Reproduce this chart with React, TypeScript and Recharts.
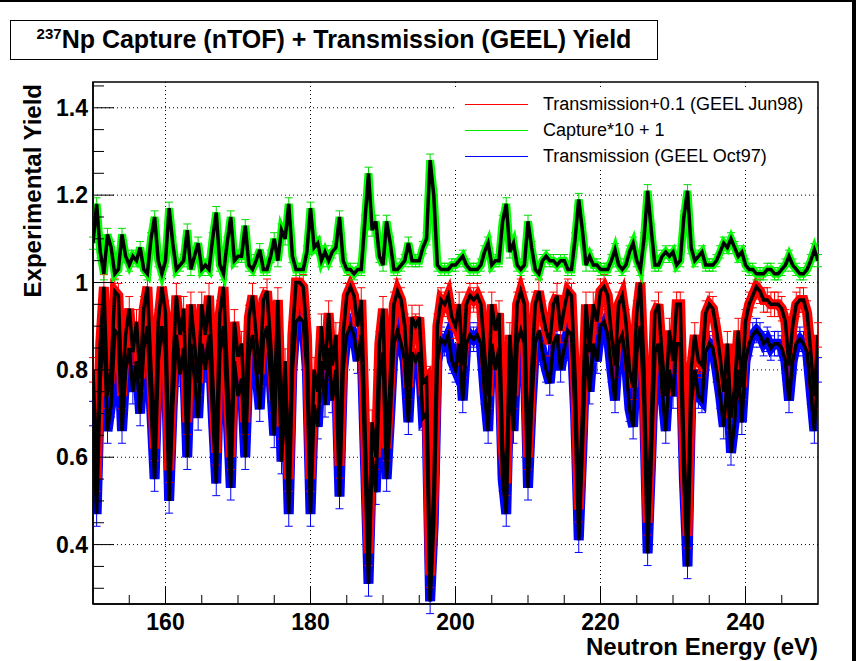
import React from 'react';
import { LineChart, Line, XAxis, YAxis, CartesianGrid, ErrorBar, ReferenceArea } from 'recharts';

// neutron energy grid (eV)
const energy = [
  150, 150.5, 151, 151.5, 152, 152.5, 153, 153.5, 154, 154.5,
  155, 155.5, 156, 156.5, 157, 157.5, 158, 158.5, 159, 159.5,
  160, 160.5, 161, 161.5, 162, 162.5, 163, 163.5, 164, 164.5,
  165, 165.5, 166, 166.5, 167, 167.5, 168, 168.5, 169, 169.5,
  170, 170.5, 171, 171.5, 172, 172.5, 173, 173.5, 174, 174.5,
  175, 175.5, 176, 176.5, 177, 177.5, 178, 178.5, 179, 179.5,
  180, 180.5, 181, 181.5, 182, 182.5, 183, 183.5, 184, 184.5,
  185, 185.5, 186, 186.5, 187, 187.5, 188, 188.5, 189, 189.5,
  190, 190.5, 191, 191.5, 192, 192.5, 193, 193.5, 194, 194.5,
  195, 195.5, 196, 196.5, 197, 197.5, 198, 198.5, 199, 199.5,
  200, 200.5, 201, 201.5, 202, 202.5, 203, 203.5, 204, 204.5,
  205, 205.5, 206, 206.5, 207, 207.5, 208, 208.5, 209, 209.5,
  210, 210.5, 211, 211.5, 212, 212.5, 213, 213.5, 214, 214.5,
  215, 215.5, 216, 216.5, 217, 217.5, 218, 218.5, 219, 219.5,
  220, 220.5, 221, 221.5, 222, 222.5, 223, 223.5, 224, 224.5,
  225, 225.5, 226, 226.5, 227, 227.5, 228, 228.5, 229, 229.5,
  230, 230.5, 231, 231.5, 232, 232.5, 233, 233.5, 234, 234.5,
  235, 235.5, 236, 236.5, 237, 237.5, 238, 238.5, 239, 239.5,
  240, 240.5, 241, 241.5, 242, 242.5, 243, 243.5, 244, 244.5,
  245, 245.5, 246, 246.5, 247, 247.5, 248, 248.5, 249, 249.5,
  250,
];

// Transmission (GEEL Oct97)
const transOct97 = [
  0.70, 0.47, 0.78, 0.90, 0.66, 0.72, 0.89, 0.88, 0.66, 0.80,
  0.85, 0.75, 0.82, 0.70, 0.85, 0.90, 0.72, 0.55, 0.82, 0.90,
  0.84, 0.50, 0.72, 0.88, 0.79, 0.85, 0.60, 0.86, 0.78, 0.69,
  0.86, 0.80, 0.88, 0.70, 0.54, 0.84, 0.90, 0.72, 0.53, 0.82,
  0.74, 0.78, 0.60, 0.83, 0.88, 0.80, 0.71, 0.87, 0.90, 0.78,
  0.65, 0.90, 0.59, 0.75, 0.47, 0.80, 0.91, 0.92, 0.91, 0.80,
  0.47, 0.72, 0.67, 0.82, 0.72, 0.85, 0.73, 0.80, 0.51, 0.80,
  0.88, 0.90, 0.88, 0.82, 0.88, 0.60, 0.31, 0.60, 0.52, 0.78,
  0.84, 0.55, 0.70, 0.86, 0.89, 0.86, 0.82, 0.68, 0.84, 0.82,
  0.84, 0.69, 0.70, 0.27, 0.45, 0.82, 0.87, 0.86, 0.88, 0.82,
  0.80, 0.86, 0.73, 0.86, 0.88, 0.87, 0.88, 0.86, 0.75, 0.66,
  0.86, 0.80, 0.85, 0.55, 0.47, 0.80, 0.66, 0.86, 0.89, 0.86,
  0.53, 0.72, 0.86, 0.89, 0.84, 0.80, 0.77, 0.86, 0.88, 0.80,
  0.85, 0.89, 0.88, 0.70, 0.41, 0.62, 0.86, 0.75, 0.86, 0.82,
  0.90, 0.91, 0.88, 0.80, 0.73, 0.86, 0.88, 0.82, 0.71, 0.67,
  0.84, 0.90, 0.72, 0.38, 0.60, 0.84, 0.86, 0.75, 0.66, 0.80,
  0.74, 0.86, 0.86, 0.55, 0.35, 0.72, 0.80, 0.74, 0.73, 0.84,
  0.86, 0.85, 0.80, 0.74, 0.67, 0.78, 0.61, 0.68, 0.80, 0.68,
  0.82, 0.86, 0.88, 0.89, 0.88, 0.86, 0.87, 0.85, 0.86, 0.86,
  0.85, 0.82, 0.73, 0.82, 0.86, 0.87, 0.86, 0.84, 0.75, 0.66,
  0.80,
];

// Transmission+0.1 (GEEL Jun98)
const transJun98 = [
  0.80, 0.55, 0.86, 0.99, 0.74, 0.80, 0.98, 0.97, 0.74, 0.88,
  0.94, 0.84, 0.91, 0.78, 0.94, 0.99, 0.80, 0.62, 0.91, 0.99,
  0.93, 0.57, 0.80, 0.97, 0.88, 0.94, 0.68, 0.95, 0.86, 0.77,
  0.95, 0.88, 0.97, 0.78, 0.61, 0.93, 0.99, 0.80, 0.60, 0.91,
  0.83, 0.86, 0.68, 0.92, 0.97, 0.88, 0.79, 0.96, 0.98, 0.86,
  0.73, 0.96, 0.67, 0.82, 0.55, 0.88, 1.00, 1.00, 0.99, 0.88,
  0.55, 0.80, 0.75, 0.90, 0.80, 0.93, 0.81, 0.88, 0.58, 0.88,
  0.97, 0.99, 0.97, 0.90, 0.96, 0.68, 0.38, 0.68, 0.60, 0.86,
  0.94, 0.62, 0.78, 0.95, 0.98, 0.96, 0.90, 0.76, 0.92, 0.90,
  0.92, 0.77, 0.78, 0.33, 0.52, 0.90, 0.96, 0.95, 0.97, 0.92,
  0.90, 0.95, 0.81, 0.95, 0.97, 0.96, 0.97, 0.95, 0.84, 0.74,
  0.95, 0.89, 0.93, 0.62, 0.54, 0.88, 0.74, 0.95, 0.98, 0.95,
  0.60, 0.80, 0.95, 0.98, 0.93, 0.89, 0.86, 0.95, 0.97, 0.89,
  0.94, 0.98, 0.97, 0.78, 0.48, 0.70, 0.95, 0.84, 0.95, 0.91,
  0.98, 0.99, 0.97, 0.88, 0.81, 0.95, 0.97, 0.91, 0.80, 0.76,
  0.93, 1.00, 0.80, 0.45, 0.68, 0.93, 0.95, 0.83, 0.74, 0.89,
  0.82, 0.95, 0.95, 0.62, 0.42, 0.80, 0.88, 0.82, 0.81, 0.93,
  0.95, 0.94, 0.89, 0.83, 0.75, 0.86, 0.69, 0.76, 0.89, 0.76,
  0.91, 0.95, 0.97, 0.99, 0.98, 0.96, 0.96, 0.95, 0.95, 0.95,
  0.94, 0.91, 0.81, 0.90, 0.95, 0.96, 0.96, 0.93, 0.84, 0.74,
  0.88,
];

// Capture*10 + 1 (nTOF)
const capture = [
  1.09, 1.18, 1.07, 1.02, 1.11, 1.08, 1.02, 1.03, 1.11, 1.06,
  1.04, 1.06, 1.05, 1.08, 1.03, 1.02, 1.10, 1.15, 1.05, 1.02,
  1.05, 1.17, 1.09, 1.03, 1.04, 1.05, 1.12, 1.03, 1.06, 1.09,
  1.03, 1.04, 1.03, 1.10, 1.16, 1.04, 1.02, 1.09, 1.15, 1.05,
  1.06, 1.06, 1.13, 1.04, 1.03, 1.05, 1.075, 1.03, 1.03, 1.06,
  1.10, 1.05, 1.12, 1.10, 1.18, 1.06, 1.03, 1.03, 1.03, 1.07,
  1.17, 1.08, 1.09, 1.05, 1.07, 1.05, 1.07, 1.08, 1.15, 1.05,
  1.03, 1.03, 1.02, 1.03, 1.03, 1.14, 1.25, 1.12, 1.14, 1.06,
  1.04, 1.14, 1.09, 1.03, 1.03, 1.04, 1.05, 1.09, 1.05, 1.05,
  1.05, 1.08, 1.10, 1.28, 1.20, 1.04, 1.03, 1.03, 1.03, 1.04,
  1.04, 1.05, 1.06, 1.04, 1.03, 1.03, 1.03, 1.04, 1.07, 1.09,
  1.04, 1.05, 1.05, 1.14, 1.18, 1.07, 1.09, 1.04, 1.03, 1.04,
  1.14, 1.08, 1.03, 1.02, 1.05, 1.06, 1.05, 1.05, 1.04, 1.05,
  1.05, 1.03, 1.03, 1.10, 1.19, 1.12, 1.04, 1.06, 1.04, 1.04,
  1.03, 1.03, 1.03, 1.05, 1.075, 1.04, 1.03, 1.04, 1.07, 1.09,
  1.05, 1.03, 1.10, 1.21, 1.12, 1.04, 1.04, 1.06, 1.07, 1.06,
  1.07, 1.04, 1.05, 1.15, 1.21, 1.08, 1.05, 1.06, 1.07, 1.04,
  1.04, 1.04, 1.05, 1.07, 1.09, 1.08, 1.10, 1.08, 1.06, 1.07,
  1.04, 1.03, 1.03, 1.02, 1.02, 1.02, 1.03, 1.03, 1.02, 1.02,
  1.03, 1.04, 1.06, 1.04, 1.03, 1.02, 1.02, 1.03, 1.05, 1.075,
  1.05,
];

const transErr = 0.028;
const captErr = 0.014;

const xTicks = [155, 160, 165, 170, 175, 180, 185, 190, 195, 200, 205, 210, 215, 220, 225, 230, 235, 240, 245];
const xLabels = [160, 180, 200, 220, 240];
const yTicks = [0.3, 0.35, 0.4, 0.45, 0.5, 0.55, 0.6, 0.65, 0.7, 0.75, 0.8, 0.85, 0.9, 0.95, 1, 1.05, 1.1, 1.15, 1.2, 1.25, 1.3, 1.35, 1.4, 1.45];
const yLabels = [0.4, 0.6, 0.8, 1, 1.2, 1.4];

const rows = energy.map((e, i) => ({
  e,
  oct97: transOct97[i],
  jun98: transJun98[i],
  capt: capture[i],
  tErr: transErr,
  cErr: captErr,
}));

const FONT = '"Liberation Sans", Arial, Helvetica, sans-serif';
const W = 856;
const H = 661;

const XTick = ({ x, y, payload }: any) => {
  const major = xLabels.includes(payload.value);
  return (
    <g>
      <line x1={x} x2={x} y1={y} y2={y - (major ? 18 : 9)} stroke="#000" strokeWidth={1} />
      {major && (
        <text x={x} y={y + 26} textAnchor="middle" fontFamily={FONT} fontWeight="bold" fontSize={23} fill="#000">
          {payload.value}
        </text>
      )}
    </g>
  );
};

const YTick = ({ x, y, payload }: any) => {
  const major = yLabels.some((v) => Math.abs(v - payload.value) < 1e-6);
  return (
    <g>
      <line x1={x} x2={x + (major ? 21 : 11)} y1={y} y2={y} stroke="#000" strokeWidth={1} />
      {major && (
        <text x={x - 5} y={y + 8} textAnchor="end" fontFamily={FONT} fontWeight="bold" fontSize={23} fill="#000">
          {payload.value}
        </text>
      )}
    </g>
  );
};

const legendItems = [
  { label: 'Transmission+0.1 (GEEL Jun98)', color: '#ff0000' },
  { label: 'Capture*10 + 1', color: '#00ee00' },
  { label: 'Transmission (GEEL Oct97)', color: '#0000ff' },
];

export default function App() {
  return (
    <div style={{ position: 'absolute', left: 0, top: 0, width: W, height: H, background: '#fff', overflow: 'hidden', fontFamily: FONT }}>
      <LineChart width={W} height={H} data={rows} margin={{ top: 82, right: 38, bottom: 0, left: 0 }}>
        <CartesianGrid
          stroke="#000"
          strokeDasharray="1 3"
          verticalValues={xLabels}
          horizontalValues={yLabels}
        />
        <XAxis
          dataKey="e"
          type="number"
          domain={[150, 250]}
          ticks={xTicks}
          interval={0}
          tickSize={0}
          tickMargin={0}
          tickLine={false}
          tick={<XTick />}
          height={57}
          axisLine={{ stroke: '#000', strokeWidth: 1.5 }}
          allowDataOverflow
        />
        <YAxis
          type="number"
          domain={[0.264, 1.459]}
          ticks={yTicks}
          interval={0}
          tickSize={0}
          tickMargin={0}
          tickLine={false}
          tick={<YTick />}
          width={93}
          axisLine={{ stroke: '#000', strokeWidth: 1.5 }}
          allowDataOverflow
        />
        <Line dataKey="oct97" type="linear" stroke="#0000ff" strokeWidth={10} dot={false} activeDot={false} isAnimationActive={false}>
          <ErrorBar dataKey="tErr" width={4} stroke="#0000ff" strokeWidth={1} direction="y" />
        </Line>
        <Line dataKey="jun98" type="linear" stroke="#ff0000" strokeWidth={10} dot={false} activeDot={false} isAnimationActive={false}>
          <ErrorBar dataKey="tErr" width={4} stroke="#ff0000" strokeWidth={1} direction="y" />
        </Line>
        <Line dataKey="capt" type="linear" stroke="#00ff00" strokeWidth={8} dot={false} activeDot={false} isAnimationActive={false}>
          <ErrorBar dataKey="cErr" width={4} stroke="#00dd00" strokeWidth={1} direction="y" />
        </Line>
        <Line dataKey="oct97" type="linear" stroke="#000" strokeWidth={3.5} dot={false} activeDot={false} isAnimationActive={false} />
        <Line dataKey="jun98" type="linear" stroke="#000" strokeWidth={3.5} dot={false} activeDot={false} isAnimationActive={false} />
        <Line dataKey="capt" type="linear" stroke="#000" strokeWidth={3.5} dot={false} activeDot={false} isAnimationActive={false} />
        <ReferenceArea x1={150} x2={250} y1={0.264} y2={1.459} fill="none" stroke="#000" strokeWidth={1.5} ifOverflow="extendDomain" />
      </LineChart>

      {/* legend */}
      <div style={{ position: 'absolute', left: 455, top: 89, width: 362, height: 81, background: '#fff' }}>
        {legendItems.map((it, i) => (
          <div key={it.label} style={{ position: 'absolute', left: 0, top: 2 + i * 26, height: 26, width: 362 }}>
            <div style={{ position: 'absolute', left: 10, top: 13, width: 63, height: 1, background: it.color }} />
            <div style={{ position: 'absolute', left: 88, top: 2, fontSize: 18, lineHeight: '22px', color: '#000', whiteSpace: 'nowrap' }}>
              {it.label}
            </div>
          </div>
        ))}
      </div>

      {/* title */}
      <div
        style={{
          position: 'absolute', left: 10, top: 20, width: 648, height: 40, boxSizing: 'border-box',
          border: '1.5px solid #000', background: '#fff', display: 'flex', alignItems: 'center', justifyContent: 'center',
          fontWeight: 'bold', fontSize: 25, whiteSpace: 'nowrap',
        }}
      >
        <span>
          <sup style={{ fontSize: 15 }}>237</sup>Np Capture (nTOF) + Transmission (GEEL) Yield
        </span>
      </div>

      {/* axis titles */}
      <div
        style={{
          position: 'absolute', left: 20, top: 384, width: 300, height: 26, lineHeight: '26px',
          transform: 'rotate(-90deg)', transformOrigin: 'left top', textAlign: 'right',
          fontWeight: 'bold', fontSize: 24, whiteSpace: 'nowrap',
        }}
      >
        Experimental Yield
      </div>
      <div
        style={{
          position: 'absolute', left: 418, top: 634, width: 400, height: 26, lineHeight: '26px', textAlign: 'right',
          fontWeight: 'bold', fontSize: 24, whiteSpace: 'nowrap',
        }}
      >
        Neutron Energy (eV)
      </div>

      {/* canvas border */}
      <div style={{ position: 'absolute', left: 0, top: 0, width: W, height: 2, background: '#000' }} />
      <div style={{ position: 'absolute', left: 852, top: 0, width: 4, height: H, background: '#000' }} />
    </div>
  );
}
